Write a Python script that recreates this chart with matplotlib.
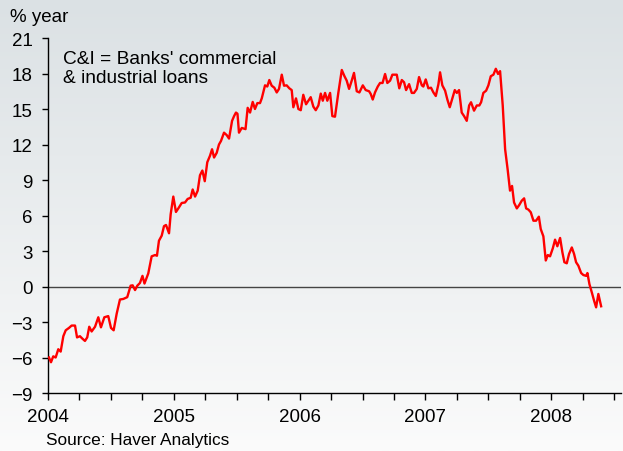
import matplotlib.pyplot as plt
import numpy as np

# years after 2004 (decimal) and annual % change of C&I loans
t = [0.008, 0.024, 0.042, 0.061, 0.082, 0.101, 0.122, 0.141, 0.167, 0.188,
     0.215, 0.231, 0.254, 0.273, 0.294, 0.312, 0.328, 0.347, 0.374, 0.400,
     0.421, 0.448, 0.479, 0.501, 0.522, 0.546, 0.572, 0.599, 0.630, 0.657,
     0.673, 0.692, 0.710, 0.731, 0.751, 0.767, 0.797, 0.824, 0.851, 0.866,
     0.882, 0.904, 0.922, 0.938, 0.962, 0.975, 0.996, 1.017, 1.036, 1.063,
     1.089, 1.110, 1.134, 1.150, 1.169, 1.190, 1.208, 1.227, 1.246, 1.266,
     1.288, 1.304, 1.320, 1.341, 1.359, 1.375, 1.399, 1.420, 1.439, 1.463,
     1.479, 1.494, 1.506, 1.518, 1.540, 1.570, 1.587, 1.606, 1.627, 1.645,
     1.664, 1.685, 1.699, 1.725, 1.743, 1.759, 1.778, 1.799, 1.818, 1.836,
     1.858, 1.876, 1.897, 1.918, 1.937, 1.950, 1.971, 1.990, 2.009, 2.029,
     2.051, 2.069, 2.088, 2.109, 2.128, 2.149, 2.168, 2.184, 2.202, 2.220,
     2.242, 2.260, 2.281, 2.308, 2.335, 2.355, 2.374, 2.393, 2.414, 2.432,
     2.454, 2.475, 2.502, 2.525, 2.552, 2.565, 2.581, 2.599, 2.621, 2.639,
     2.659, 2.679, 2.697, 2.719, 2.737, 2.772, 2.792, 2.812, 2.830, 2.846,
     2.870, 2.891, 2.909, 2.931, 2.949, 2.971, 2.983, 3.002, 3.023, 3.044,
     3.063, 3.082, 3.103, 3.116, 3.134, 3.156, 3.174, 3.193, 3.214, 3.233,
     3.249, 3.267, 3.288, 3.307, 3.328, 3.347, 3.362, 3.386, 3.408, 3.428,
     3.442, 3.460, 3.482, 3.500, 3.519, 3.540, 3.559, 3.577, 3.593, 3.614,
     3.633, 3.653, 3.672, 3.688, 3.704, 3.726, 3.746, 3.765, 3.784, 3.800,
     3.818, 3.837, 3.858, 3.879, 3.901, 3.916, 3.937, 3.956, 3.972, 3.990,
     4.012, 4.030, 4.048, 4.070, 4.088, 4.104, 4.123, 4.141, 4.163, 4.181,
     4.197, 4.215, 4.237, 4.255, 4.277, 4.287, 4.303, 4.322, 4.340, 4.356,
     4.374, 4.396]
ci_loans = [-6.0, -6.4, -5.9, -6.0, -5.3, -5.5, -4.2, -3.7, -3.5, -3.3,
            -3.3, -4.3, -4.2, -4.4, -4.6, -4.3, -3.4, -3.8, -3.4, -2.6,
            -3.45, -2.6, -2.5, -3.5, -3.7, -2.3, -1.1, -1.05, -0.9, 0.07,
            0.1, -0.3, 0.07, 0.3, 0.9, 0.25, 1.1, 2.55, 2.66, 2.6,
            3.87, 4.3, 5.1, 5.2, 4.5, 6.1, 7.6, 6.3, 6.6, 7.06,
            7.1, 7.4, 7.5, 8.2, 7.6, 8.1, 9.4, 9.8, 8.9, 10.5,
            11.06, 11.6, 10.9, 11.3, 12.0, 12.3, 13.0, 12.8, 12.5, 14.0,
            14.4, 14.7, 14.6, 13.0, 13.4, 13.3, 15.1, 14.7, 15.6, 15.0,
            15.5, 15.5, 15.9, 17.0, 16.9, 17.45, 16.97, 16.8, 16.4, 16.7,
            17.9, 16.97, 17.0, 16.75, 16.6, 15.15, 15.9, 15.0, 14.9, 16.2,
            15.4, 15.7, 16.0, 15.2, 14.9, 15.3, 16.3, 15.7, 16.36, 15.7,
            16.36, 14.4, 14.35, 16.4, 18.3, 17.8, 17.4, 16.7, 17.4, 18.05,
            16.5, 16.4, 17.0, 16.6, 16.5, 16.27, 15.8, 16.4, 16.9, 17.2,
            17.2, 17.96, 17.2, 17.4, 17.9, 17.9, 16.75, 17.45, 17.26, 16.6,
            17.1, 16.36, 16.36, 16.7, 17.7, 17.0, 16.9, 17.5, 16.75, 16.8,
            16.4, 16.1, 17.1, 18.1, 17.0, 16.55, 15.8, 15.15, 15.9, 16.6,
            16.36, 16.6, 14.7, 14.4, 14.0, 15.3, 15.57, 14.86, 15.3, 15.3,
            15.57, 16.36, 16.55, 17.0, 17.77, 17.9, 18.4, 17.96, 18.2, 15.3,
            11.6, 9.9, 8.1, 8.5, 7.1, 6.6, 6.9, 7.25, 7.45, 6.6,
            6.5, 6.27, 5.56, 5.56, 5.9, 4.86, 4.24, 2.2, 2.66, 2.55,
            3.23, 3.96, 3.4, 4.1, 2.9, 2.05, 1.96, 2.75, 3.3, 2.75,
            2.05, 1.76, 1.14, 0.97, 0.9, 1.14, 0.2, -0.5, -1.2, -1.76,
            -0.63, -1.67]
years = [2004, 2005, 2006, 2007, 2008]
yticks = [-9, -6, -3, 0, 3, 6, 9, 12, 15, 18, 21]

plt.rcParams['font.family'] = ['Liberation Sans', 'DejaVu Sans']

fig = plt.figure(figsize=(6.23, 4.52), dpi=100)

# background gradient
bg = fig.add_axes([0, 0, 1, 1], zorder=0)
grad = np.linspace(0, 1, 256).reshape(-1, 1)
top = np.array([219, 225, 228]) / 255
bottom = np.array([251, 251, 251]) / 255
img = top + (bottom - top) * grad[:, :, None]
bg.imshow(img, aspect='auto', extent=[0, 1, 0, 1])
bg.axis('off')

ax = fig.add_axes([0.077, 0.1283, 0.919, 0.7854], zorder=1)
ax.patch.set_alpha(0)

x = [2004 + v for v in t]
ax.plot(x, ci_loans, color='#ff0000', lw=1.7, zorder=3)
ax.axhline(0, color='#444444', lw=1.0, zorder=2)

quarters = np.arange(2004, 2008.51, 0.25)
ax.set_xlim(2004, 2008.55)
ax.set_ylim(-9, 21)
ax.set_yticks(yticks)
ax.set_xticks(quarters)
ax.set_xticklabels([str(int(q)) if q in years else '' for q in quarters])
ax.tick_params(axis='y', length=4, width=1, pad=7, labelsize=13.5, direction='out')
ax.tick_params(axis='x', length=5, width=1, pad=6, labelsize=13.5, direction='out')
for s in ['top', 'right']:
    ax.spines[s].set_visible(False)
for s in ['left', 'bottom']:
    ax.spines[s].set_linewidth(1.0)

fig.text(0.016, 0.962, '% year', fontsize=13.5, va='center', ha='left')
ax.text(0.026, 0.965, "C&I = Banks' commercial\n& industrial loans", transform=ax.transAxes,
        fontsize=13.8, va='top', ha='left', linespacing=1.12)
fig.text(0.074, 0.026, 'Source: Haver Analytics', fontsize=12.4, va='center', ha='left')

fig.savefig('out.png', dpi=100)
